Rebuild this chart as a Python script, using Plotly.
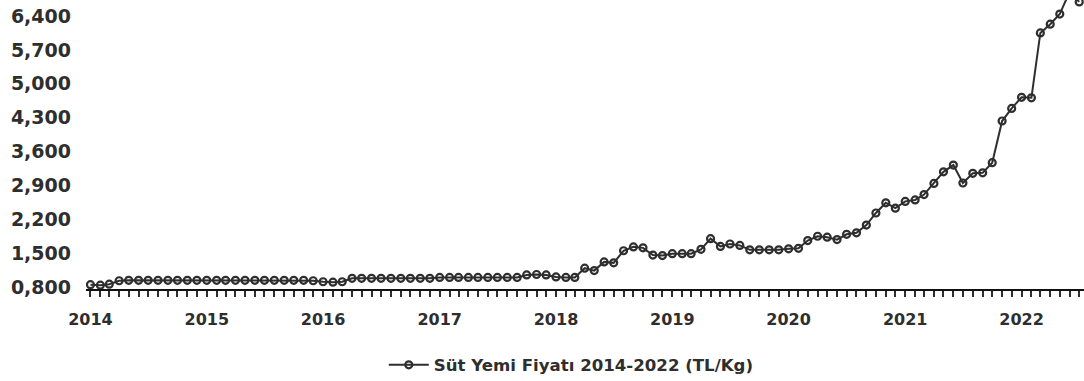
import pandas as pd
import plotly.graph_objects as go

# Monthly dairy feed price (TL/kg), January 2014 - July 2022
months = pd.date_range("2014-01-01", periods=103, freq="MS").strftime("%Y-%m-%d").tolist()

price_2014 = [0.85, 0.84, 0.86, 0.93, 0.94, 0.94, 0.94, 0.94, 0.94, 0.94, 0.94, 0.94]
price_2015 = [0.94, 0.94, 0.94, 0.94, 0.94, 0.94, 0.94, 0.94, 0.94, 0.94, 0.94, 0.93]
price_2016 = [0.91, 0.90, 0.91, 0.98, 0.98, 0.98, 0.98, 0.98, 0.98, 0.98, 0.98, 0.98]
price_2017 = [1.00, 1.00, 1.00, 1.00, 1.00, 1.00, 1.00, 1.00, 1.00, 1.05, 1.06, 1.05]
price_2018 = [1.01, 1.00, 1.00, 1.19, 1.14, 1.32, 1.30, 1.55, 1.63, 1.61, 1.46, 1.45]
price_2019 = [1.49, 1.49, 1.49, 1.58, 1.80, 1.64, 1.69, 1.66, 1.57, 1.57, 1.57, 1.57]
price_2020 = [1.59, 1.60, 1.76, 1.85, 1.83, 1.78, 1.89, 1.92, 2.08, 2.33, 2.54, 2.43]
price_2021 = [2.57, 2.60, 2.71, 2.94, 3.18, 3.32, 2.95, 3.15, 3.16, 3.37, 4.23, 4.49]
price_2022 = [4.72, 4.71, 6.05, 6.23, 6.44, 6.90, 6.69]

prices = (price_2014 + price_2015 + price_2016 + price_2017 + price_2018
          + price_2019 + price_2020 + price_2021 + price_2022)

y_ticks = [0.8, 1.5, 2.2, 2.9, 3.6, 4.3, 5.0, 5.7, 6.4]
year_ticks = [f"{y}-01-01" for y in range(2014, 2023)]
year_labels = [str(y) for y in range(2014, 2023)]

ink = "#2e2e2e"

fig = go.Figure()
fig.add_trace(go.Scatter(
    x=months,
    y=prices,
    mode="lines+markers",
    name="Süt Yemi Fiyatı 2014-2022 (TL/Kg)",
    line=dict(color=ink, width=2),
    marker=dict(symbol="circle-open", size=7, color=ink, line=dict(width=2.2, color=ink)),
    cliponaxis=True,
))

fig.update_layout(
    width=1084,
    height=381,
    margin=dict(l=86, r=0, t=0, b=92, autoexpand=False),
    paper_bgcolor="white",
    plot_bgcolor="white",
    separators=",.",
    showlegend=True,
    legend=dict(
        orientation="h",
        xref="container",
        yref="container",
        x=0.527,
        xanchor="center",
        y=0.042,
        yanchor="middle",
        font=dict(family="DejaVu Sans", size=16.6, color=ink, weight="bold"),
        itemwidth=40,
    ),
    xaxis=dict(
        type="date",
        range=["2013-12-18", "2022-07-16"],
        tickvals=year_ticks,
        ticktext=year_labels,
        ticks="outside",
        ticklen=6,
        tickwidth=1.5,
        tickcolor=ink,
        showline=True,
        linecolor="#111111",
        linewidth=2,
        showgrid=False,
        zeroline=False,
        tickfont=dict(family="DejaVu Sans", size=16, color=ink, weight="bold"),
        ticklabelstandoff=9,
        minor=dict(dtick="M1", tick0="2014-01-01", ticks="outside", ticklen=6,
                   tickwidth=1.5, tickcolor=ink, showgrid=False),
    ),
    yaxis=dict(
        range=[0.76, 6.73],
        tickvals=y_ticks,
        tickformat=".3f",
        ticks="",
        showline=False,
        showgrid=False,
        zeroline=False,
        tickfont=dict(family="DejaVu Sans", size=19, color=ink, weight="bold"),
        ticklabelstandoff=14,
    ),
)

fig.write_html("out.html")
